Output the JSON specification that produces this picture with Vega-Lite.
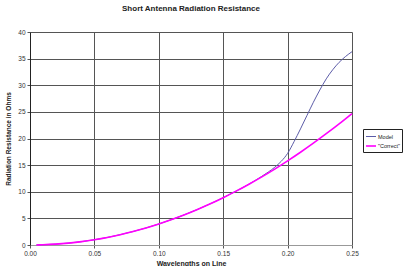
{
  "$schema": "https://vega.github.io/schema/vega-lite/v6.json",
  "width": 322,
  "height": 213,
  "autosize": {"type": "none"},
  "padding": {"left": 30, "top": 32, "right": 51, "bottom": 21},
  "background": "white",
  "title": {"text": "Short Antenna Radiation Resistance", "fontSize": 8, "font": "Liberation Sans", "fontWeight": "bold", "color": "#222", "offset": 16, "anchor": "middle"},
  "config": {
    "view": {"stroke": null},
    "font": "Liberation Sans"
  },
  "data": {"values": [
    {"x": 0.005, "R": 0.01, "series": "Model"},
    {"x": 0.01, "R": 0.04, "series": "Model"},
    {"x": 0.02, "R": 0.16, "series": "Model"},
    {"x": 0.03, "R": 0.36, "series": "Model"},
    {"x": 0.04, "R": 0.63, "series": "Model"},
    {"x": 0.05, "R": 0.99, "series": "Model"},
    {"x": 0.06, "R": 1.42, "series": "Model"},
    {"x": 0.07, "R": 1.94, "series": "Model"},
    {"x": 0.08, "R": 2.53, "series": "Model"},
    {"x": 0.09, "R": 3.2, "series": "Model"},
    {"x": 0.10, "R": 3.95, "series": "Model"},
    {"x": 0.11, "R": 4.78, "series": "Model"},
    {"x": 0.12, "R": 5.69, "series": "Model"},
    {"x": 0.13, "R": 6.68, "series": "Model"},
    {"x": 0.14, "R": 7.74, "series": "Model"},
    {"x": 0.15, "R": 8.89, "series": "Model"},
    {"x": 0.16, "R": 10.12, "series": "Model"},
    {"x": 0.17, "R": 11.43, "series": "Model"},
    {"x": 0.175, "R": 12.15, "series": "Model"},
    {"x": 0.18, "R": 12.9, "series": "Model"},
    {"x": 0.185, "R": 13.7, "series": "Model"},
    {"x": 0.19, "R": 14.6, "series": "Model"},
    {"x": 0.195, "R": 15.7, "series": "Model"},
    {"x": 0.20, "R": 17.2, "series": "Model"},
    {"x": 0.205, "R": 19.4, "series": "Model"},
    {"x": 0.21, "R": 21.8, "series": "Model"},
    {"x": 0.215, "R": 24.3, "series": "Model"},
    {"x": 0.22, "R": 26.8, "series": "Model"},
    {"x": 0.225, "R": 29.1, "series": "Model"},
    {"x": 0.23, "R": 31.2, "series": "Model"},
    {"x": 0.235, "R": 32.9, "series": "Model"},
    {"x": 0.24, "R": 34.3, "series": "Model"},
    {"x": 0.245, "R": 35.4, "series": "Model"},
    {"x": 0.25, "R": 36.3, "series": "Model"},
    {"x": 0.005, "R": 0.01, "series": "\"Correct\""},
    {"x": 0.01, "R": 0.04, "series": "\"Correct\""},
    {"x": 0.02, "R": 0.16, "series": "\"Correct\""},
    {"x": 0.03, "R": 0.36, "series": "\"Correct\""},
    {"x": 0.04, "R": 0.63, "series": "\"Correct\""},
    {"x": 0.05, "R": 0.99, "series": "\"Correct\""},
    {"x": 0.06, "R": 1.42, "series": "\"Correct\""},
    {"x": 0.07, "R": 1.94, "series": "\"Correct\""},
    {"x": 0.08, "R": 2.53, "series": "\"Correct\""},
    {"x": 0.09, "R": 3.2, "series": "\"Correct\""},
    {"x": 0.10, "R": 3.95, "series": "\"Correct\""},
    {"x": 0.11, "R": 4.78, "series": "\"Correct\""},
    {"x": 0.12, "R": 5.69, "series": "\"Correct\""},
    {"x": 0.13, "R": 6.68, "series": "\"Correct\""},
    {"x": 0.14, "R": 7.74, "series": "\"Correct\""},
    {"x": 0.15, "R": 8.89, "series": "\"Correct\""},
    {"x": 0.16, "R": 10.11, "series": "\"Correct\""},
    {"x": 0.17, "R": 11.42, "series": "\"Correct\""},
    {"x": 0.18, "R": 12.8, "series": "\"Correct\""},
    {"x": 0.19, "R": 14.26, "series": "\"Correct\""},
    {"x": 0.20, "R": 15.8, "series": "\"Correct\""},
    {"x": 0.21, "R": 17.42, "series": "\"Correct\""},
    {"x": 0.22, "R": 19.12, "series": "\"Correct\""},
    {"x": 0.23, "R": 20.9, "series": "\"Correct\""},
    {"x": 0.24, "R": 22.75, "series": "\"Correct\""},
    {"x": 0.25, "R": 24.69, "series": "\"Correct\""}
  ]},
  "mark": {"type": "line", "interpolate": "monotone"},
  "encoding": {
    "x": {
      "field": "x", "type": "quantitative",
      "scale": {"domain": [0, 0.25], "nice": false},
      "axis": {
        "title": "Wavelengths on Line", "titleFontSize": 7, "titleFontWeight": "bold", "titleColor": "#222", "titlePadding": 3,
        "values": [0, 0.05, 0.1, 0.15, 0.2, 0.25], "format": ".2f", "labelFlush": false,
        "labelFontSize": 6.5, "labelColor": "#333", "labelPadding": 2,
        "tickSize": 3, "tickColor": "#555", "domainColor": "#999",
        "grid": true, "gridColor": "#555", "gridWidth": 1
      }
    },
    "y": {
      "field": "R", "type": "quantitative",
      "scale": {"domain": [0, 40], "nice": false},
      "axis": {
        "title": "Radiation Resistance in Ohms", "titleFontSize": 6.5, "titleFontWeight": "bold", "titleColor": "#222", "titlePadding": 6,
        "values": [0, 5, 10, 15, 20, 25, 30, 35, 40], "labelFlush": false,
        "labelFontSize": 6.5, "labelColor": "#333", "labelPadding": 2,
        "tickSize": 3, "tickColor": "#555", "domainColor": "#222",
        "grid": true, "gridColor": "#555", "gridWidth": 1
      }
    },
    "color": {
      "field": "series", "type": "nominal",
      "scale": {"domain": ["Model", "\"Correct\""], "range": ["#5c5ca8", "#ff00ff"]},
      "legend": {
        "title": null, "orient": "none", "legendX": 333, "legendY": 97,
        "symbolType": "stroke", "symbolSize": 100, "symbolStrokeWidth": 1.2, "symbolOffset": 0,
        "labelFontSize": 5.5, "labelColor": "#222", "labelOffset": 1, "rowPadding": 0,
        "strokeColor": "#222", "padding": 2, "fillColor": "white"
      }
    },
    "strokeWidth": {
      "field": "series", "type": "nominal",
      "scale": {"domain": ["Model", "\"Correct\""], "range": [1, 1.6]},
      "legend": null
    }
  }
}
